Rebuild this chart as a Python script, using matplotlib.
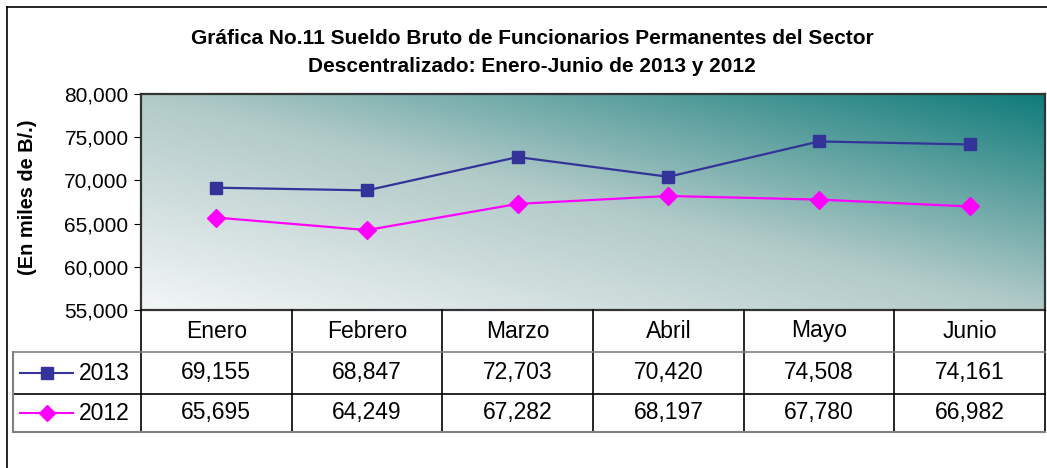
import numpy as np
import matplotlib
matplotlib.use("Agg")
import matplotlib.pyplot as plt
from matplotlib.lines import Line2D
from matplotlib.ticker import FuncFormatter
from matplotlib.transforms import blended_transform_factory
from matplotlib.colors import LinearSegmentedColormap

plt.rcParams["font.family"] = ["Liberation Sans", "DejaVu Sans"]

meses = ["Enero", "Febrero", "Marzo", "Abril", "Mayo", "Junio"]
sueldo_2013 = [69155, 68847, 72703, 70420, 74508, 74161]
sueldo_2012 = [65695, 64249, 67282, 68197, 67780, 66982]

W, H = 1047, 468
fig = plt.figure(figsize=(W / 100, H / 100), dpi=100)


def fx(px):
    return px / W


def fy(py):
    return 1 - py / H


# outer frame
fig.add_artist(Line2D([fx(7), fx(7)], [fy(7), 0], transform=fig.transFigure, color="black", lw=1.2))
fig.add_artist(Line2D([fx(7), 1], [fy(7), fy(7)], transform=fig.transFigure, color="black", lw=1.2))

# plot area
left, right, top, bottom = 141, 1045, 94, 310
ax = fig.add_axes([fx(left), fy(bottom), (right - left) / W, (bottom - top) / H])

# gradient background: near white bottom-left -> teal top-right
grad = LinearSegmentedColormap.from_list(
    "grad", [(0.0, "#f3f6f6"), (0.5, "#b1cac8"), (1.0, "#107c7a")])
u = np.linspace(0, 1, 300)
v = np.linspace(0, 1, 100)
U, V = np.meshgrid(u, v)
ax.imshow((U + V) / 2, cmap=grad, vmin=0, vmax=1, extent=[0, 1, 0, 1],
          transform=ax.transAxes, origin="lower", aspect="auto", zorder=0,
          interpolation="bilinear")

x = np.arange(len(meses))
ax.plot(x, sueldo_2013, color="#333399", lw=1.6, marker="s", ms=8, zorder=3)
ax.plot(x, sueldo_2012, color="#FF00FF", lw=1.6, marker="D", ms=9, zorder=3)

ax.set_xlim(-0.5, len(meses) - 0.5)
ax.set_ylim(55000, 80000)
ax.set_yticks(range(55000, 80001, 5000))
ax.yaxis.set_major_formatter(FuncFormatter(lambda val, pos: f"{int(val):,}"))
ax.tick_params(axis="y", direction="out", length=5, labelsize=15, pad=4)
ax.set_xticks([])
for s in ax.spines.values():
    s.set_color("#333333")
    s.set_linewidth(1.6)

fig.text(fx(28), fy(197), "(En miles de B/.)", rotation=90, ha="center", va="center",
         fontsize=14.4, fontweight="bold")

fig.text(fx(532), fy(38), "Gráfica No.11 Sueldo Bruto de Funcionarios Permanentes del Sector",
         ha="center", va="center", fontsize=15, fontweight="bold")
fig.text(fx(532), fy(67), "Descentralizado: Enero-Junio de 2013 y 2012",
         ha="center", va="center", fontsize=15, fontweight="bold")

# data table
row_cat, row_a, row_b, row_end = 310, 352, 394, 432
tr = blended_transform_factory(ax.transData, fig.transFigure)
ft = fig.transFigure

# vertical separators
for i in range(len(meses) + 1):
    xp = fx(left + i * (right - left) / len(meses))
    fig.add_artist(Line2D([xp, xp], [fy(row_cat), fy(row_end)], transform=ft, color="black", lw=1.2))
# horizontal lines
fig.add_artist(Line2D([fx(13), fx(right)], [fy(row_a), fy(row_a)], transform=ft, color="#808080", lw=1.2))
fig.add_artist(Line2D([fx(13), fx(right)], [fy(row_b), fy(row_b)], transform=ft, color="black", lw=1.2))
fig.add_artist(Line2D([fx(13), fx(right)], [fy(row_end), fy(row_end)], transform=ft, color="#808080", lw=1.5))
fig.add_artist(Line2D([fx(13), fx(13)], [fy(row_a), fy(row_end)], transform=ft, color="#808080", lw=1.5))

for i, m in enumerate(meses):
    fig.text(i, fy((row_cat + row_a) / 2), m, transform=tr, ha="center", va="center", fontsize=16.5)
    fig.text(i, fy((row_a + row_b) / 2), f"{sueldo_2013[i]:,}", transform=tr,
             ha="center", va="center", fontsize=16.5)
    fig.text(i, fy((row_b + row_end) / 2), f"{sueldo_2012[i]:,}", transform=tr,
             ha="center", va="center", fontsize=16.5)

# legend keys
for yrow, color, mk, lab in [((row_a + row_b) / 2, "#333399", "s", "2013"),
                             ((row_b + row_end) / 2, "#FF00FF", "D", "2012")]:
    fig.add_artist(Line2D([fx(20), fx(73)], [fy(yrow), fy(yrow)], transform=ft, color=color, lw=1.5))
    fig.add_artist(Line2D([fx(46.5)], [fy(yrow)], transform=ft, color=color, marker=mk, ms=8, lw=0))
    fig.text(fx(79), fy(yrow), lab, ha="left", va="center", fontsize=16.5)

fig.savefig("out.png", dpi=100)
